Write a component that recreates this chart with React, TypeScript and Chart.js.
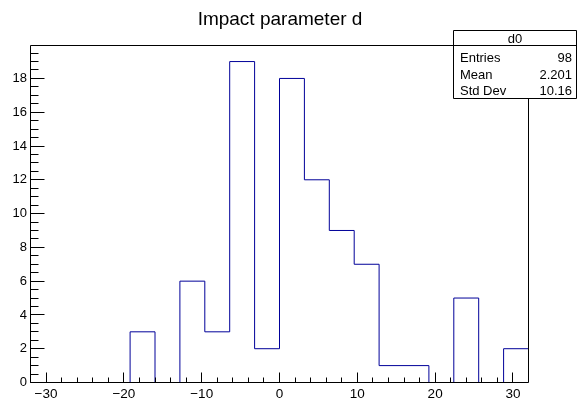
import React, { useEffect, useRef } from "react";
import { Chart, registerables } from "chart.js";

Chart.register(...registerables);

// ---- data ----
const binLow = -32;
const binHigh = 32;
const binCounts = [0, 0, 0, 0, 3, 0, 6, 3, 19, 2, 18, 12, 9, 7, 1, 1, 0, 5, 0, 2];
const xTickValues = [-30, -20, -10, 0, 10, 20, 30];
const yTickValues = [0, 2, 4, 6, 8, 10, 12, 14, 16, 18];
const yMax = 19.95;
const xMinorStep = 2;
const yMinorStep = 0.5;
const histTitle = "Impact parameter d";
const statsName = "d0";
const statsLabels = ["Entries", "Mean", "Std Dev"];
const statsValues = ["98", "2.201", "10.16"];

const FONT = '"Liberation Sans", Arial, Helvetica, sans-serif';
const LINE_COLOR = "#000099";

function histPoints() {
  const n = binCounts.length;
  const w = (binHigh - binLow) / n;
  const pts = binCounts.map((v, i) => ({ x: binLow + i * w, y: v }));
  pts.push({ x: binHigh, y: binCounts[n - 1] });
  pts.push({ x: binHigh, y: 0 });
  return pts;
}

const fmt = (v: number) => (v < 0 ? "\u2212" + Math.abs(v) : String(v));

const rootFrame = {
  id: "rootFrame",
  afterDraw(chart: any) {
    const ctx = chart.ctx as CanvasRenderingContext2D;
    const { left, right, top, bottom } = chart.chartArea;
    const xs = chart.scales.x;
    const ys = chart.scales.y;
    ctx.save();
    ctx.strokeStyle = "#000";
    ctx.lineWidth = 1;
    // frame
    ctx.beginPath();
    ctx.rect(left, top, right - left, bottom - top);
    ctx.stroke();
    // x ticks
    ctx.beginPath();
    for (let v = binLow; v <= binHigh + 1e-9; v += xMinorStep) {
      const p = Math.floor(xs.getPixelForValue(v)) + 0.5;
      if (p <= left + 1 || p >= right - 1) continue;
      ctx.moveTo(p, bottom);
      ctx.lineTo(p, bottom - 5);
    }
    xTickValues.forEach((v) => {
      const p = Math.floor(xs.getPixelForValue(v)) + 0.5;
      ctx.moveTo(p, bottom);
      ctx.lineTo(p, bottom - 10);
    });
    // y ticks
    for (let v = 0; v <= yMax + 1e-9; v += yMinorStep) {
      const p = Math.floor(ys.getPixelForValue(v)) + 0.5;
      if (p <= top + 1) continue;
      ctx.moveTo(left, p);
      ctx.lineTo(left + 8, p);
    }
    yTickValues.forEach((v) => {
      const p = Math.floor(ys.getPixelForValue(v)) + 0.5;
      ctx.moveTo(left, p);
      ctx.lineTo(left + 14, p);
    });
    ctx.stroke();

    // title
    ctx.fillStyle = "#000";
    ctx.font = `19px ${FONT}`;
    ctx.textAlign = "center";
    ctx.textBaseline = "alphabetic";
    ctx.fillText(histTitle, (left + right) / 2 + 0.5, 24.5);

    // stats box
    const bx0 = 453.5, bx1 = 576.5, by0 = 30.5, by1 = 98.5, sep = 45.5;
    ctx.fillStyle = "#fff";
    ctx.fillRect(bx0, by0, bx1 - bx0, by1 - by0);
    ctx.beginPath();
    ctx.rect(bx0, by0, bx1 - bx0, by1 - by0);
    ctx.moveTo(bx0, sep);
    ctx.lineTo(bx1, sep);
    ctx.stroke();
    ctx.fillStyle = "#000";
    ctx.font = `13px ${FONT}`;
    ctx.textAlign = "center";
    ctx.fillText(statsName, (bx0 + bx1) / 2, 43);
    const baselines = [61.5, 78.5, 95];
    statsLabels.forEach((l, i) => {
      ctx.textAlign = "left";
      ctx.fillText(l, 460, baselines[i]);
      ctx.textAlign = "right";
      ctx.fillText(statsValues[i], 572, baselines[i]);
    });
    ctx.restore();
  },
};

export default function App() {
  const ref = useRef<HTMLCanvasElement | null>(null);
  useEffect(() => {
    document.body.style.margin = "0";
    const canvas = ref.current!;
    const chart = new Chart(canvas, {
      type: "line",
      data: {
        datasets: [
          {
            data: histPoints(),
            borderColor: LINE_COLOR,
            borderWidth: 1,
            pointRadius: 0,
            stepped: "before",
            fill: false,
          },
        ],
      },
      options: {
        animation: false,
        responsive: false,
        devicePixelRatio: 1,
        layout: { padding: { left: 0, right: 57.5, top: 45.5, bottom: 0 } },
        plugins: { legend: { display: false }, tooltip: { enabled: false }, title: { display: false } },
        scales: {
          x: {
            type: "linear",
            min: binLow,
            max: binHigh,
            grid: { display: false, drawTicks: false },
            border: { display: false },
            afterFit: (s: any) => {
              s.height = 18.5;
            },
            afterBuildTicks: (s: any) => {
              s.ticks = xTickValues.map((v) => ({ value: v }));
            },
            ticks: {
              padding: 4,
              maxRotation: 0,
              autoSkip: false,
              color: "#000",
              font: { family: FONT, size: 13.5 },
              callback: (v: any) => fmt(Number(v)),
            },
          },
          y: {
            type: "linear",
            min: 0,
            max: yMax,
            grid: { display: false, drawTicks: false },
            border: { display: false },
            afterFit: (s: any) => {
              s.width = 30.5;
            },
            afterBuildTicks: (s: any) => {
              s.ticks = yTickValues.map((v) => ({ value: v }));
            },
            ticks: {
              padding: 3.5,
              autoSkip: false,
              color: "#000",
              font: { family: FONT, size: 13 },
              callback: (v: any) => fmt(Number(v)),
            },
          },
        },
      },
      plugins: [rootFrame],
    });
    return () => chart.destroy();
  }, []);
  return (
    <div style={{ position: "fixed", left: 0, top: 0, width: 586, height: 401, background: "#fff" }}>
      <canvas ref={ref} width={586} height={401} style={{ width: 586, height: 401, display: "block" }} />
    </div>
  );
}
